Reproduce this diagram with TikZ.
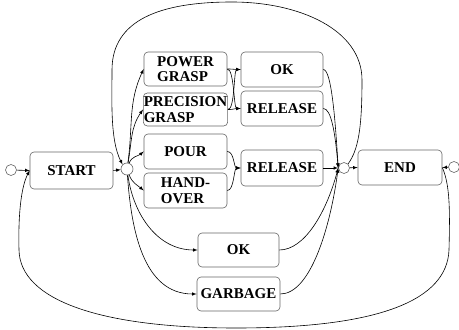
\documentclass[tikz,border=0pt]{standalone}
\usepackage{fontspec}
\setmainfont{Liberation Serif}
\usepackage{tikz}
\usetikzlibrary{positioning}
\usetikzlibrary{arrows.meta}
\tikzset{
    state/.style = {rectangle, rounded corners=4pt, draw=black!60, line width=0.6pt, minimum width=83pt, minimum height=34pt, inner sep=0.5pt, align=left, font=\bfseries\fontsize{15}{15.5}\selectfont},
    junc/.style = {circle, draw=black!60, line width=0.6pt, fill=white, minimum size=11pt, inner sep=0pt},
    edgen/.style = {-latex, line width=0.6pt},
    edgep/.style = {line width=0.6pt}, % plain
}

\begin{document}
\begin{tikzpicture}[x=1pt,y=1pt]
\useasboundingbox (0,0) rectangle (459,330);
%
\node[junc] at (11, 160) (startc) {};
\node[state, minimum height=37pt] at (71.5, 159.5) (start) {START};
\node[junc, minimum size=12pt] at (127, 161) (jl) {};
\node[state] at (185.5, 261) (power) {POWER\\GRASP};
\node[state, minimum height=33pt] at (185.5, 220.5) (precision) {PRECISION\\GRASP};
\node[state, minimum height=35pt] at (185.5, 178.5) (pour) {POUR};
\node[state, minimum height=35pt] at (185.5, 139.5) (handover) {HAND-\\OVER};
\node[state, minimum width=82pt, minimum height=35pt] at (282, 260.5) (ok) {OK};
\node[state, minimum width=82pt, minimum height=35pt] at (282, 221.5) (release) {RELEASE};
\node[state, minimum width=82pt, minimum height=36pt] at (282, 162) (releasep) {RELEASE};
\node[state, minimum width=81pt] at (238.5, 80) (okb) {OK};
\node[state] at (238.5, 36) (garbage) {GARBAGE};
\node[junc] at (344, 162) (jr) {};
\node[state, minimum width=84pt, minimum height=35pt] at (400, 162.5) (end) {END};
\node[junc] at (454, 163) (endc) {};
%
\draw[edgen] (startc) -- (start.west);
\draw[edgen] (start.east) -- (jl);
\draw[edgen] (jl) to[out=82, in=-115] (power.west);
\draw[edgen] (jl) to[out=80, in=-125] (precision.west);
\draw[edgen] (jl) to[out=70, in=-140] (pour.west);
\draw[edgen] (jl) to[out=-70, in=140] (handover.west);
\draw[edgen] (jl) to[out=-82, in=180] (okb.west);
\draw[edgen] (jl) to[out=-86, in=180] (garbage.west);
%
\draw[edgen] (power.east) .. controls +(7,0) and +(-7,0) .. (ok.west);
\draw[edgen] (power.east) .. controls +(7,0) and +(-7,0) .. (release.west);
\draw[edgen] (precision.east) .. controls +(7,0) and +(-7,0) .. (ok.west);
\draw[edgen] (precision.east) .. controls +(7,0) and +(-7,0) .. (release.west);
\draw[edgen] (pour.east) .. controls +(7,0) and +(-7,0) .. (releasep.west);
\draw[edgen] (handover.east) .. controls +(7,0) and +(-7,0) .. (releasep.west);
%
\draw[edgen] (ok.east) .. controls +(8,0) and +(-3,50) .. (jr.west);
\draw[edgen] (release.east) .. controls +(8,0) and +(-3,35) .. (jr.west);
\draw[edgen] (releasep.east) -- (jr.west);
\draw[edgen] (okb.east) .. controls +(25,0) and +(-12,-45) .. (jr.west);
\draw[edgen] (garbage.east) .. controls +(30,0) and +(-8,-60) .. (jr.west);
\draw[edgen] (jr) -- (end.west);
\draw[edgen] (endc) -- (end.east);
%
\draw[edgen] (jr.north east) .. controls (358,180) and (362,200) .. (362,250)
    .. controls (362,300) and (300,328) .. (232,328)
    .. controls (160,328) and (112,310) .. (112,260)
    .. controls (112,230) and (110,190) .. (jl.north west);
\draw[edgen] (end.east) .. controls (450,145) and (450,120) .. (449,80)
    .. controls (447,30) and (380,2) .. (236,2)
    .. controls (100,2) and (20,30) .. (19,80)
    .. controls (18,120) and (22,145) .. (start.west);

\end{tikzpicture}
\end{document}
